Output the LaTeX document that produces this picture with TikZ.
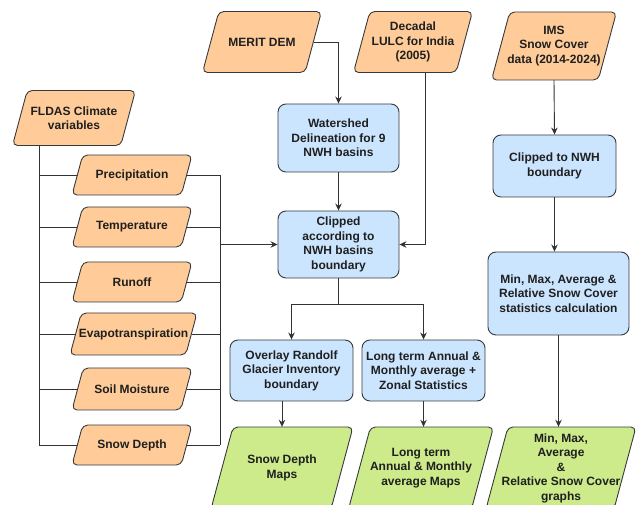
\documentclass[tikz,border=0pt]{standalone}
\usepackage{fontspec}
\setmainfont{Liberation Sans}
\usetikzlibrary{arrows.meta}
\definecolor{bd}{HTML}{36393D}
\definecolor{orf}{HTML}{FFCC99}
\definecolor{blf}{HTML}{CCE5FF}
\definecolor{grf}{HTML}{CDEB8B}
\definecolor{ln}{HTML}{333333}
\tikzset{
  every node/.style={font=\fontsize{12}{14.5}\selectfont\bfseries, text=black!88, align=center},
  parabox/.style={draw=bd, line width=0.9pt, rounded corners=5pt},
  paratext/.style={rectangle, inner sep=0pt},
  proc/.style={rectangle, draw=bd, fill=blf, line width=0.9pt, rounded corners=8pt, inner sep=1pt},
  wire/.style={draw=ln, line width=0.9pt},
  arr/.style={wire, -{Stealth[length=7pt,width=6.5pt]}},
}
% name, cx, cy, total width, height, fill, text
\newcommand\paranode[7]{%
  \pgfmathsetmacro\psl{0.268*#5}%
  \draw[parabox, fill=#6] ({#2-#4/2},{#3+#5/2}) -- ({#2+#4/2-\psl},{#3+#5/2}) -- ({#2+#4/2},{#3-#5/2}) -- ({#2-#4/2+\psl},{#3-#5/2}) -- cycle;
  \node[paratext, minimum width={#4-\psl}, minimum height=#5] (#1) at (#2,#3) {#7};
}
\begin{document}
\begin{tikzpicture}[x=1pt,y=-1pt]
\useasboundingbox (0,0) rectangle (638,505);
% left: FLDAS
\paranode{fldas}{74}{118}{123}{55}{orf}{FLDAS Climate\\variables}
\paranode{precip}{132}{175}{120}{40}{orf}{Precipitation}
\paranode{temp}{132}{227}{120}{40}{orf}{Temperature}
\paranode{runoff}{132}{282}{120}{40}{orf}{Runoff}
\paranode{evap}{133.5}{334}{127}{42}{orf}{Evapotranspiration}
\paranode{soil}{132}{389}{120}{42}{orf}{Soil Moisture}
\paranode{snowd}{132}{445}{120}{40}{orf}{Snow Depth}
% top center
\paranode{merit}{262}{42}{119}{61}{orf}{MERIT DEM}
\paranode{lulc}{413}{42}{119}{61}{orf}{Decadal\\LULC for India\\(2005)}
\node[proc, minimum width=121, minimum height=68] (water) at (338.5,138) {Watershed\\Delineation for 9\\NWH basins};
\node[proc, minimum width=121, minimum height=67] (clip) at (338.5,244.5) {Clipped\\according to\\NWH basins\\boundary};
\node[proc, minimum width=123, minimum height=61] (overlay) at (291.5,370.5) {Overlay Randolf\\Glacier Inventory\\boundary};
\node[proc, minimum width=123, minimum height=61] (longterm) at (423.5,370.5) {Long term Annual \&\\Monthly average +\\Zonal Statistics};
% right column
\paranode{ims}{554}{46}{125}{68}{orf}{IMS\\Snow Cover\\data (2014-2024)}
\node[proc, minimum width=123, minimum height=62] (clipnwh) at (554.5,166) {Clipped to NWH\\boundary};
\node[proc, minimum width=141, minimum height=83] (minmax) at (558.5,293.5) {Min, Max, Average \&\\Relative Snow Cover\\statistics calculation};
% outputs
\paranode{sdmaps}{282}{468}{142}{82}{grf}{Snow Depth\\Maps}
\paranode{ltmaps}{421}{468}{145}{82}{grf}{Long term\\Annual \& Monthly\\average Maps}
\paranode{mmgraphs}{561}{468}{150}{82}{grf}{Min, Max,\\Average\\\&\\Relative Snow Cover\\graphs}
% connector helper coordinates
\coordinate (lt) at (39,445);
\coordinate (rt) at (220,445);
\coordinate (lx) at (425,0);
\coordinate (sp) at (340,304);
% FLDAS tree
\draw[wire] (fldas.south -| lt) -- (snowd.west -| lt);
\foreach \n in {precip,temp,runoff,evap,soil,snowd}{
  \draw[wire] (\n.west -| lt) -- (\n.west);
  \draw[wire] (\n.east) -- (\n.east -| rt);
}
\draw[wire] (precip.east -| rt) -- (snowd.east -| rt);
\draw[arr] (clip.west -| rt) -- (clip.west);
% top
\draw[arr] (merit.east) -| (water.north);
\draw[arr] (water.south) -- (clip.north);
\draw[arr] (lulc.south -| lx) |- (clip.east);
\draw[wire] (clip.south) -- (clip.south |- sp);
\draw[arr] (clip.south |- sp) -| (overlay.north);
\draw[arr] (clip.south |- sp) -| (longterm.north);
\draw[arr] (sdmaps.north |- overlay.south) -- (sdmaps.north);
\draw[arr] (longterm.south) -- (longterm.south |- ltmaps.north);
% right
\draw[arr] (ims.south) -- (clipnwh.north);
\draw[arr] (clipnwh.south) -- (clipnwh.south |- minmax.north);
\draw[arr] (minmax.south) -- (minmax.south |- mmgraphs.north);
\end{tikzpicture}
\end{document}
